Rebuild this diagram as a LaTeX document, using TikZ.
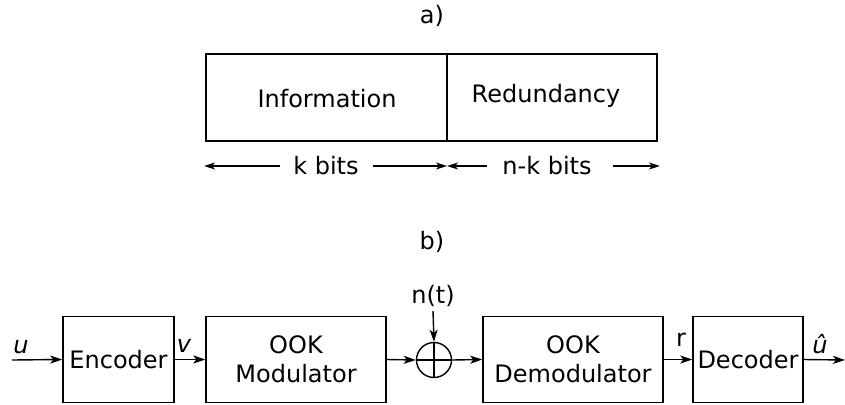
\documentclass[tikz,border=0pt]{standalone}
\usepackage{fontspec}
\setmainfont{DejaVu Sans}
\usetikzlibrary{arrows.meta}
\begin{document}
\begin{tikzpicture}[x=1pt,y=-1pt,
  every node/.style={font=\fontsize{24}{28}\selectfont, inner sep=0pt},
  blk/.style={draw, line width=1.4pt, minimum height=86pt, align=center},
  ln/.style={line width=1.4pt},
  arr/.style={line width=1.4pt, -{Stealth[length=12pt,width=8pt,inset=3pt]}},
  arrs/.style={line width=1.4pt, -{Stealth[length=11pt,width=7pt,inset=3pt]}}]
\useasboundingbox (0,0) rectangle (845,404);
% part a
\node (la) at (432,16) {a)};
\node[blk, minimum width=241pt, minimum height=87pt] (info) at (326.5,97.5) {};
\node[blk, minimum width=210pt, minimum height=87pt] (red) at (552,97.5) {};
\node (tinfo) at (327,99) {Information};
\node (tred) at (546,96) {Redundancy};
\node (kb) at (326,166) {k bits};
\node (nkb) at (547,166) {n-k bits};
\coordinate (a1) at (280,166);
\coordinate (a1e) at (204,166);
\coordinate (a2) at (373,166);
\coordinate (mid) at (447,166);
\coordinate (a3) at (487,166);
\coordinate (a4) at (613,166);
\coordinate (a4e) at (660,166);
\draw[arrs] (a1) -- (a1e);
\draw[arrs] (a2) -- (mid);
\draw[arrs] (a3) -- (mid);
\draw[arrs] (a4) -- (a4e);
% part b
\node (lb) at (432,242) {b)};
\node[blk, minimum width=111pt] (enc) at (118.5,359.5) {Encoder};
\node[blk, minimum width=180pt] (mod) at (296,359.5) {OOK\\[1pt]Modulator};
\node[draw, circle, line width=1.4pt, minimum size=35pt] (sum) at (434,360) {};
\draw[ln] (sum.north) -- (sum.south) (sum.west) -- (sum.east);
\node[blk, minimum width=180pt] (dem) at (573,359.5) {OOK\\[1pt]Demodulator};
\node[blk, minimum width=110pt] (dec) at (748,359.5) {Decoder};
\node (nt) at (433,296) {n(t)};
\coordinate (in) at (12,360);
\coordinate (out) at (845,360);
\draw[arr] (in) -- (enc.west);
\draw[arr] (enc.east) -- (mod.west);
\draw[arr] (mod.east) -- (sum.west);
\draw[arr] (sum.east) -- (dem.west);
\draw[arr] (dem.east) -- (dec.west);
\draw[arr] (dec.east) -- (out);
\draw[arr] (nt.south) ++(0,4) -- (sum.north);
\node (u) at (21,347) {\textit{u}};
\node (v) at (184,346) {\textit{v}};
\node (r) at (681,340) {r};
\node (uh) at (820,344) {\textit{\^u}};
\end{tikzpicture}
\end{document}
